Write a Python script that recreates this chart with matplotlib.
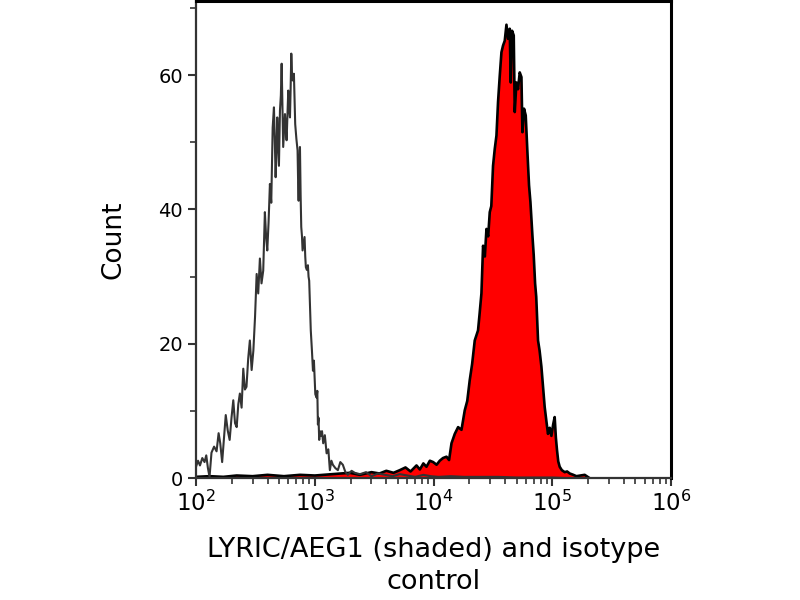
import numpy as np
import matplotlib.pyplot as plt
from matplotlib.ticker import LogLocator, MultipleLocator, NullFormatter

# Isotype control (outline only)
iso_x = [100, 104, 108, 113, 118, 122, 126, 130, 135, 142,
         149, 155, 160, 166, 172, 178, 185, 192, 199, 206,
         213, 220, 227, 234, 242, 250, 258, 266, 275, 284,
         294, 304, 314, 324, 334, 345, 356, 368, 380, 389,
         398, 408, 419, 430, 442, 453, 461, 468, 476, 483,
         491, 499, 509, 518, 526, 534, 542, 552, 561, 570,
         579, 588, 598, 608, 618, 626, 634, 642, 651, 659,
         667, 676, 684, 700, 716, 724, 731, 740, 750, 760,
         769, 780, 789, 805, 820, 831, 841, 858, 875, 886,
         897, 910, 925, 946, 965, 983, 1010, 1035, 1050, 1062,
         1075, 1089, 1105, 1125, 1150, 1177, 1215, 1257, 1300, 1339,
         1380, 1419, 1490, 1564, 1640, 1722, 1810, 1897, 2040, 2172,
         2400, 2700, 3000, 3400, 3900, 4500, 5200, 6000, 7000, 8200,
         9500, 11000, 14000, 18000, 25000, 35000, 50000, 70000, 100000, 140000]
iso_y = [1.7, 2.6, 1.9, 3.0, 2.4, 3.4, 1.5, 0.2, 3.8, 4.7,
         4.0, 6.7, 5.2, 2.4, 6.0, 9.4, 7.1, 5.7, 9.0, 11.6,
         8.2, 7.6, 11.0, 12.6, 10.5, 16.3, 13.2, 13.6, 17.8, 20.5,
         16.1, 19.0, 24.0, 30.4, 27.5, 32.7, 29.0, 30.9, 39.6, 36.0,
         33.9, 38.0, 43.8, 41.0, 52.2, 55.2, 50.0, 44.8, 49.0, 53.7,
         50.0, 46.5, 54.7, 57.0, 61.7, 55.0, 49.3, 52.0, 54.2, 52.0,
         50.3, 54.0, 57.7, 55.0, 53.7, 58.0, 63.2, 60.5, 59.2, 59.5,
         60.2, 56.0, 52.7, 50.5, 48.8, 44.0, 41.3, 46.0, 49.3, 42.0,
         37.4, 36.0, 33.9, 35.0, 35.9, 33.0, 31.4, 31.0, 31.7, 30.0,
         29.4, 26.0, 22.0, 19.0, 16.0, 17.5, 12.5, 12.0, 13.0, 8.0,
         9.0, 5.7, 7.0, 6.3, 7.0, 5.2, 6.4, 3.7, 4.3, 1.2,
         2.6, 2.0, 1.5, 1.2, 2.4, 2.0, 0.9, 0.5, 1.1, 0.8,
         0.6, 0.9, 0.3, 0.7, 0.5, 0.3, 0.6, 0.4, 0.2, 0.5,
         0.3, 0.2, 0.3, 0.2, 0.2, 0.2, 0.1, 0.1, 0.1, 0.0]

# LYRIC/AEG1 stained (shaded)
stain_x = [100, 130, 170, 220, 300, 400, 550, 750, 1000, 1400,
           1972, 2400, 3000, 3500, 4000, 4600, 5200, 5800, 6400, 7180,
           7660, 8200, 8710, 9300, 9910, 10600, 11270, 12000, 12840, 13500,
           14150, 15080, 16080, 17170, 18290, 19200, 20150, 21100, 22200, 23660,
           24400, 25270, 26090, 27000, 27860, 28800, 29700, 30600, 31650, 32710,
           33810, 34870, 36050, 37250, 38420, 39700, 41040, 42340, 43740, 44600,
           45740, 47270, 48200, 49800, 51370, 53090, 54870, 55940, 57690, 59630,
           61630, 63570, 65320, 67900, 69620, 71500, 73100, 75700, 78000, 80800,
           83500, 86100, 89000, 91800, 95000, 98100, 101500, 104500, 107000, 109300,
           112000, 115200, 120000, 126900, 133000, 139900, 150000, 159200, 172000, 187000,
           206000]
stain_y = [0.2, 0.3, 0.2, 0.4, 0.3, 0.5, 0.3, 0.5, 0.4, 0.6,
           0.8, 0.5, 0.9, 0.7, 1.1, 0.8, 1.2, 1.6, 1.0, 1.9,
           1.3, 2.2, 1.7, 2.6, 2.4, 2.0, 2.6, 3.0, 3.2, 2.7,
           5.2, 6.6, 7.6, 7.2, 10.1, 11.5, 14.6, 17.0, 20.5, 22.0,
           24.5, 27.5, 34.6, 33.0, 37.1, 36.0, 39.6, 40.5, 46.5, 49.0,
           51.0, 56.0, 59.9, 63.4, 64.4, 65.1, 67.5, 65.4, 66.9, 58.9,
           66.6, 65.9, 54.5, 58.9, 57.9, 60.4, 59.7, 51.5, 55.0, 54.0,
           48.5, 43.6, 41.1, 36.1, 33.2, 29.0, 27.0, 20.5, 19.0, 16.6,
           13.5, 10.6, 8.5, 6.6, 7.5, 6.3, 8.0, 9.1, 6.0, 4.2,
           2.5, 1.7, 1.2, 0.9, 1.0, 0.7, 0.5, 0.3, 0.4, 0.5,
           0.0]

fig = plt.figure(figsize=(8, 6), dpi=100)
ax = fig.add_axes([0.245, 0.203, 0.594, 0.795])

ax.fill_between(stain_x, stain_y, 0, color='#ff0000', linewidth=0)
ax.plot(stain_x, stain_y, color='black', linewidth=1.9)
ax.plot(iso_x, iso_y, color='#333333', linewidth=1.5)

ax.set_xscale('log')
ax.set_xlim(100, 1e6)
ax.set_ylim(0, 71)

ax.yaxis.set_major_locator(MultipleLocator(20))
ax.yaxis.set_minor_locator(MultipleLocator(10))
ax.xaxis.set_major_locator(LogLocator(base=10))
ax.xaxis.set_minor_locator(LogLocator(base=10, subs=np.arange(2, 10)))
ax.xaxis.set_minor_formatter(NullFormatter())

for side in ['top', 'right']:
    ax.spines[side].set_linewidth(2.2)
    ax.spines[side].set_color('black')
for side in ['left', 'bottom']:
    ax.spines[side].set_linewidth(1.6)
    ax.spines[side].set_color('#333333')

ax.tick_params(axis='y', which='major', direction='out', length=6, width=1.5,
               labelsize=14, color='#333333')
ax.tick_params(axis='y', which='minor', direction='out', length=4, width=1.2,
               color='#333333')
ax.tick_params(axis='x', which='major', direction='out', length=6, width=1.5,
               labelsize=16.5, color='#333333', pad=3)
ax.tick_params(axis='x', which='minor', direction='out', length=4, width=1.2,
               color='#333333')

ax.set_ylabel('Count', fontsize=19, labelpad=23)
ax.set_xlabel('LYRIC/AEG1 (shaded) and isotype\ncontrol', fontsize=19.5, labelpad=15,
              linespacing=1.3)

fig.savefig('out.png', dpi=100)
